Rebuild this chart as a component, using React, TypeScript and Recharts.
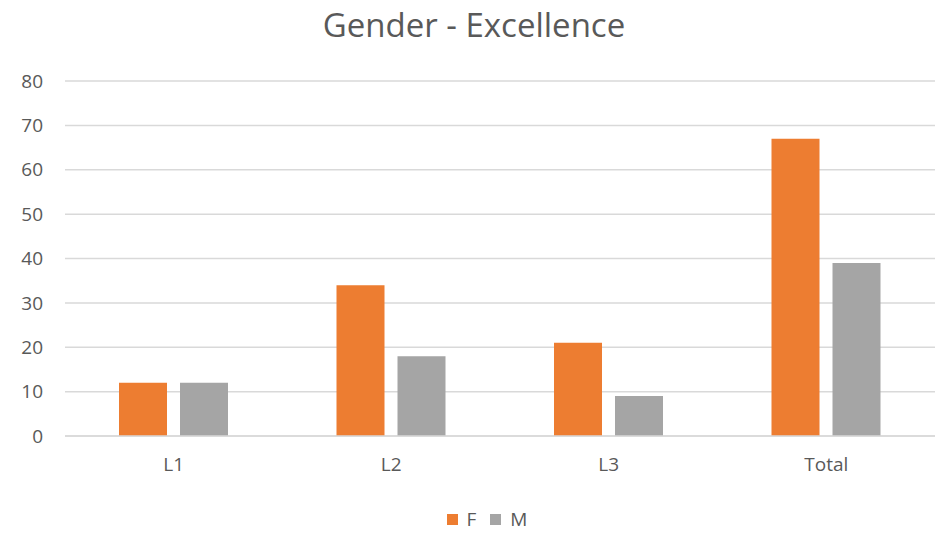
import { BarChart, Bar, XAxis, YAxis, CartesianGrid, Legend } from 'recharts';

const categories = ['L1', 'L2', 'L3', 'Total'];
const female = [12, 34, 21, 67];
const male = [12, 18, 9, 39];
const yTicks = [0, 10, 20, 30, 40, 50, 60, 70, 80];

const data = categories.map((name, i) => ({ name, F: female[i], M: male[i] }));

const TEXT = '#595959';
const FONT = '"Open Sans", "Liberation Sans", sans-serif';

function LegendContent({ payload }: { payload?: { value: string; color: string }[] }) {
  return (
    <div style={{ display: 'flex', justifyContent: 'center', alignItems: 'center', gap: 14 }}>
      {(payload || []).map((p) => (
        <div key={p.value} style={{ display: 'flex', alignItems: 'center', gap: 9 }}>
          <div style={{ width: 11, height: 11, background: p.color }} />
          <span style={{ color: TEXT, fontSize: 19, fontFamily: FONT, lineHeight: '24px' }}>{p.value}</span>
        </div>
      ))}
    </div>
  );
}

export default function App() {
  return (
    <div style={{ position: 'fixed', left: 0, top: 0, width: 948, height: 552, background: '#fff', fontFamily: FONT, overflow: 'hidden' }}>
      <div style={{
        position: 'absolute', top: 2, left: 0, width: 948, textAlign: 'center',
        fontSize: 33, color: TEXT, lineHeight: 'normal',
      }}>
        Gender - Excellence
      </div>
      <BarChart
        width={948}
        height={552}
        data={data}
        margin={{ top: 81, right: 13, left: 0, bottom: 9 }}
        barSize={48}
        barGap={13}
      >
        <CartesianGrid vertical={false} stroke="#d9d9d9" strokeWidth={1.5} />
        <XAxis
          dataKey="name"
          axisLine={{ stroke: '#d9d9d9', strokeWidth: 1.5 }}
          tickLine={false}
          tickMargin={16}
          height={71}
          tick={{ fill: TEXT, fontSize: 19, fontFamily: FONT }}
        />
        <YAxis
          domain={[0, 80]}
          ticks={yTicks}
          width={65}
          axisLine={false}
          tickLine={false}
          tickMargin={16}
          tick={{ fill: TEXT, fontSize: 19, fontFamily: FONT }}
        />
        <Legend
          verticalAlign="bottom"
          height={36}
          wrapperStyle={{ left: 26, width: 922 }}
          content={<LegendContent />}
        />
        <Bar dataKey="F" name="F" fill="#ed7d31" isAnimationActive={false} />
        <Bar dataKey="M" name="M" fill="#a5a5a5" isAnimationActive={false} />
      </BarChart>
    </div>
  );
}
